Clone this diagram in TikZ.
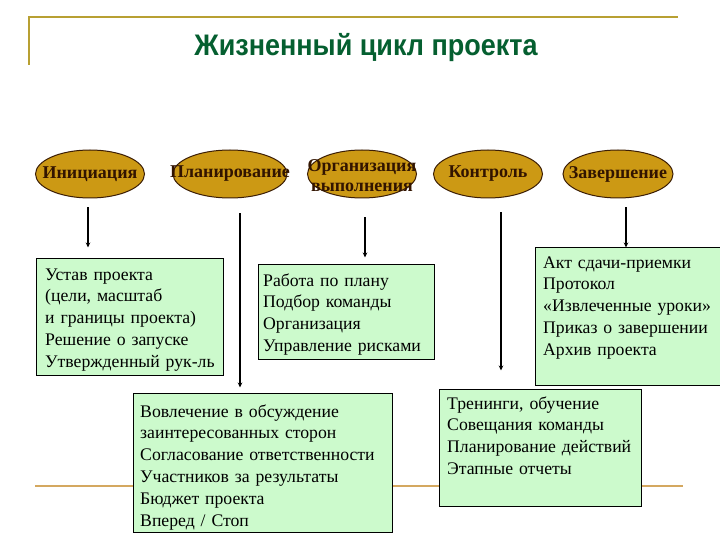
\documentclass[tikz,border=0pt]{standalone}
\usepackage{fontspec}
\setmainfont{Liberation Serif}
\newfontfamily\titlefont{Liberation Sans}
\usetikzlibrary{shapes.geometric,arrows.meta}
\definecolor{phasefill}{RGB}{204,153,20}
\definecolor{phaseline}{RGB}{60,30,5}
\definecolor{phasetextc}{RGB}{50,20,0}
\definecolor{boxfill}{RGB}{204,250,204}
\definecolor{titlegreen}{RGB}{5,95,48}
\definecolor{topline}{RGB}{184,160,50}
\definecolor{botline}{RGB}{212,168,96}
\tikzset{
  phase/.style={ellipse, draw=phaseline, line width=1pt, fill=phasefill, minimum width=109pt, minimum height=48pt, inner sep=0pt},
  phasetext/.style={text=phasetextc, font=\fontsize{18}{20}\selectfont\bfseries, align=center, inner sep=0pt},
  box/.style={rectangle, draw=black, line width=1pt, fill=boxfill, anchor=north west, inner sep=0pt},
  boxtext/.style={anchor=base west, inner sep=0pt, text width=260pt, align=left, font=\fontsize{17.7}{21.8}\selectfont},
  arr/.style={line width=1.5pt, -{Stealth[length=5pt,width=4.5pt]}},
}
\begin{document}
\begin{tikzpicture}[x=1pt,y=-1pt]
\fill[white] (0,0) rectangle (720,540);
\useasboundingbox (0,0) rectangle (720,540);
% frame lines
\draw[topline, line width=2pt] (29,65) -- (29,17) -- (678,17);
\draw[botline, line width=2.5pt] (35,486) -- (683,486);
% title
\node[anchor=base, text=titlegreen, font=\titlefont\fontsize{27}{30}\selectfont\bfseries, inner sep=0pt, yscale=1.1] (title) at (366,56) {Жизненный цикл проекта};
% phases
\node[phase] (e1) at (90,174) {};
\node[phase, minimum width=114pt] (e2) at (230,174) {};
\node[phase] (e3) at (362,174) {};
\node[phase] (e4) at (488,174) {};
\node[phase, minimum width=110pt] (e5) at (618,174) {};
\node[phasetext] (l1) at (e1) {Инициация};
\node[phasetext] (l2) at (e2) {Планирование};
\node[phasetext] (l3) at ([yshift=-2pt]e3) {Организация\\выполнения};
\node[phasetext] (l4) at (e4) {Контроль};
\node[phasetext] (l5) at (e5) {Завершение};
% boxes
\node[box, minimum width=187pt, minimum height=117pt] (b1) at (36,258) {};
\node[box, minimum width=176pt, minimum height=95pt] (b2) at (258,264) {};
\node[box, minimum width=186pt, minimum height=138pt] (b3) at (535,247) {};
\node[box, minimum width=259pt, minimum height=139pt] (b4) at (133,393) {};
\node[box, minimum width=202pt, minimum height=117pt] (b5) at (439,389) {};
\node[boxtext] (t1) at (45,280) {Устав проекта\\(цели, масштаб\\и границы проекта)\\Решение о запуске\\Утвержденный рук-ль};
\node[boxtext] (t2) at (263,286) {Работа по плану\\Подбор команды\\Организация\\Управление рисками};
\node[boxtext] (t3) at (543,268) {Акт сдачи-приемки\\Протокол\\«Извлеченные уроки»\\Приказ о завершении\\Архив проекта};
\node[boxtext] (t4) at (140,417) {Вовлечение в обсуждение\\заинтересованных сторон\\Согласование ответственности\\Участников за результаты\\Бюджет проекта\\Вперед / Стоп};
\node[boxtext] (t5) at (447,409) {Тренинги, обучение\\Совещания команды\\Планирование действий\\Этапные отчеты};
% arrows
\draw[arr] (e1.south) ++(-2,9) -- ++(0,40);
\draw[arr] (e2.south) ++(10,15) -- ++(0,174);
\draw[arr] (e3.south) ++(3,19) -- ++(0,40);
\draw[arr] (e4.south) ++(13,14) -- ++(0,158);
\draw[arr] (e5.south) ++(8,9) -- ++(0,40);
\end{tikzpicture}
\end{document}
